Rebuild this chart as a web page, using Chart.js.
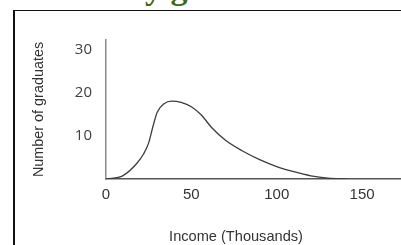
<!DOCTYPE html>
<html><head><meta charset="utf-8">
<script src="https://cdn.jsdelivr.net/npm/chart.js@4/dist/chart.umd.min.js"></script>
<style>
html,body{margin:0;padding:0;background:#fff;width:401px;height:245px;overflow:hidden;position:relative}
#title{position:absolute;left:11px;top:-29px;font:bold 34px "Liberation Serif",serif;color:#3a6b12;line-height:34px;white-space:nowrap}
#box{position:absolute;left:13px;top:10px;width:500px;height:400px;border-left:2px solid #111;border-top:1px solid #111}
#xt{position:absolute;left:0;width:472px;top:228px;text-align:center;font:14.6px "Liberation Sans",Arial,sans-serif;color:#333;line-height:17px;white-space:nowrap}
canvas{position:absolute;left:0;top:0}
</style></head><body>
<div id="title">University graduates</div>
<div id="box"></div>
<canvas id="c" width="401" height="245"></canvas>
<div id="xt">Income (Thousands)</div>
<script>
const incomeThousands   = [0, 10, 18, 22, 25, 27.5, 30, 34, 38.4, 44, 50, 56, 62, 70, 80, 90, 100, 110, 120, 130, 141];
const numberOfGraduates = [0, 0.8, 3.6, 5.8, 8.4, 12.2, 15.5, 17.5, 18.1, 17.8, 16.8, 14.8, 11.9, 9.0, 6.5, 4.5, 2.9, 1.7, 0.75, 0.2, 0];
const xTickValues = [0, 50, 100, 150];
const yTickValues = [10, 20, 30];
const xAxisMax = 172.8;
const yAxisMax = 32.3;

const points = incomeThousands.map((x, i) => ({x: x, y: numberOfGraduates[i]}));

new Chart(document.getElementById('c'), {
  type: 'line',
  data: {
    datasets: [{
      data: points,
      borderColor: '#3c3c3c',
      borderWidth: 1.3,
      pointRadius: 0,
      fill: false,
      cubicInterpolationMode: 'monotone'
    }]
  },
  options: {
    responsive: false,
    devicePixelRatio: 1,
    animation: false,
    layout: {padding: {top: 40, left: 0, right: 0, bottom: 0}},
    plugins: {legend: {display: false}, tooltip: {enabled: false}},
    scales: {
      x: {
        type: 'linear',
        min: 0,
        max: xAxisMax,
        grid: {display: false, drawTicks: false},
        border: {display: true, color: '#555', width: 1.5},
        afterBuildTicks: s => { s.ticks = xTickValues.map(v => ({value: v})); },
        afterFit: s => { s.height = 66; },
        ticks: {padding: 7, color: '#333', font: {family: '"Liberation Sans", Arial, sans-serif', size: 15}, maxRotation: 0}
      },
      y: {
        type: 'linear',
        min: 0,
        max: yAxisMax,
        grid: {display: false, drawTicks: false},
        border: {display: true, color: '#8a8a8a', width: 1.5},
        afterBuildTicks: s => { s.ticks = yTickValues.map(v => ({value: v})); },
        afterFit: s => { s.width = 106; },
        ticks: {padding: 14, color: '#404040', font: {family: '"Open Sans", sans-serif', size: 15}},
        title: {
          display: true,
          text: 'Number of graduates',
          color: '#333',
          font: {family: '"Liberation Sans", Arial, sans-serif', size: 14.4},
          padding: {top: 30, bottom: 0}
        }
      }
    }
  }
});
</script>
</body></html>
